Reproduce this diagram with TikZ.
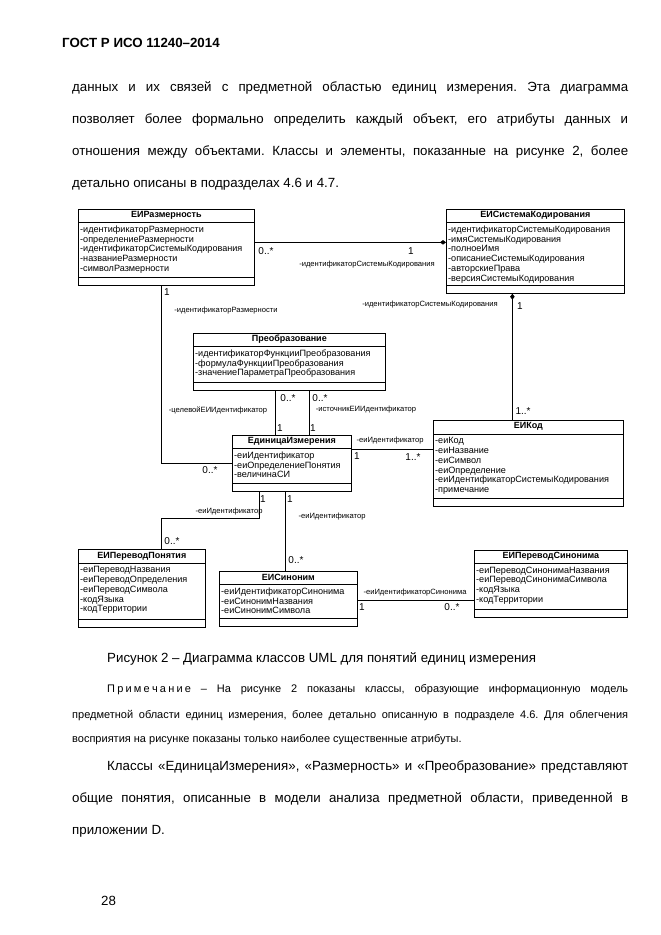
\documentclass[tikz,border=0pt]{standalone}
\usepackage{fontspec}
\setmainfont{Liberation Sans}
\usetikzlibrary{arrows.meta}
\frenchspacing

\tikzset{
  cls/.style={draw, line width=0.7pt, inner sep=0pt, anchor=north west},
  clsname/.style={font=\fontsize{9}{10}\selectfont\bfseries, inner sep=0pt},
  attrs/.style={font=\fontsize{9.1}{9.75}\selectfont, align=left, inner sep=0pt, anchor=north west},
  mult/.style={font=\fontsize{10}{11}\selectfont, inner sep=0pt},
  role/.style={font=\fontsize{7.6}{8}\selectfont, inner sep=0pt},
  link/.style={line width=0.7pt},
  agg/.style={link, -{Diamond[length=6pt, width=4.5pt]}},
  bodyline/.style={font=\fontsize{13.3}{16}\selectfont, inner sep=0pt, anchor=base west},
  noteline/.style={font=\fontsize{11}{13}\selectfont, inner sep=0pt, anchor=base west},
}

\begin{document}
\begin{tikzpicture}[x=1pt, y=-1pt]
\useasboundingbox (0,0) rectangle (661,935);

% page text above
\node[bodyline, font=\fontsize{13.3}{16}\selectfont\bfseries] (gost) at (62,47) {ГОСТ Р ИСО 11240–2014};
\node[bodyline] (p1) at (72,91) {\makebox[556pt][s]{данных и их связей с предметной областью единиц измерения. Эта диаграмма}};
\node[bodyline] (p2) at (72,123) {\makebox[556pt][s]{позволяет более формально определить каждый объект, его атрибуты данных и}};
\node[bodyline] (p3) at (72,155) {\makebox[556pt][s]{отношения между объектами. Классы и элементы, показанные на рисунке 2, более}};
\node[bodyline] (p4) at (72,187) {детально описаны в подразделах 4.6 и 4.7.};

% classes
\node[cls, minimum width=176pt, minimum height=76pt] (razm) at (78,209) {};
\node[clsname] (razm-n) at ([yshift=-6.5pt]razm.north) {ЕИРазмерность};
\draw[link] ([yshift=-13pt]razm.north west) -- ([yshift=-13pt]razm.north east);
\node[attrs] (razm-a) at ([shift={(2pt,-16.5pt)}]razm.north west) {-идентификаторРазмерности\\-определениеРазмерности\\-идентификаторСистемыКодирования\\-названиеРазмерности\\-символРазмерности};
\draw[link] ([yshift=8pt]razm.south west) -- ([yshift=8pt]razm.south east);

\node[cls, minimum width=178pt, minimum height=84pt] (sysk) at (446,209) {};
\node[clsname] (sysk-n) at ([yshift=-6.5pt]sysk.north) {ЕИСистемаКодирования};
\draw[link] ([yshift=-13pt]sysk.north west) -- ([yshift=-13pt]sysk.north east);
\node[attrs] (sysk-a) at ([shift={(2pt,-16.5pt)}]sysk.north west) {-идентификаторСистемыКодирования\\-имяСистемыКодирования\\-полноеИмя\\-описаниеСистемыКодирования\\-авторскиеПрава\\-версияСистемыКодирования};
\draw[link] ([yshift=8pt]sysk.south west) -- ([yshift=8pt]sysk.south east);

\node[cls, minimum width=192pt, minimum height=57pt] (preob) at (193,333) {};
\node[clsname] (preob-n) at ([yshift=-6.5pt]preob.north) {Преобразование};
\draw[link] ([yshift=-13pt]preob.north west) -- ([yshift=-13pt]preob.north east);
\node[attrs] (preob-a) at ([shift={(2pt,-16.5pt)}]preob.north west) {-идентификаторФункцииПреобразования\\-формулаФункцииПреобразования\\-значениеПараметраПреобразования};
\draw[link] ([yshift=8pt]preob.south west) -- ([yshift=8pt]preob.south east);

\node[cls, minimum width=119pt, minimum height=56pt] (edin) at (232,435) {};
\node[clsname] (edin-n) at ([yshift=-6.5pt]edin.north) {ЕдиницаИзмерения};
\draw[link] ([yshift=-13pt]edin.north west) -- ([yshift=-13pt]edin.north east);
\node[attrs] (edin-a) at ([shift={(2pt,-16.5pt)}]edin.north west) {-еиИдентификатор\\-еиОпределениеПонятия\\-величинаСИ};
\draw[link] ([yshift=8pt]edin.south west) -- ([yshift=8pt]edin.south east);

\node[cls, minimum width=190pt, minimum height=86pt] (kod) at (433,420) {};
\node[clsname] (kod-n) at ([yshift=-6.5pt]kod.north) {ЕИКод};
\draw[link] ([yshift=-14pt]kod.north west) -- ([yshift=-14pt]kod.north east);
\node[attrs] (kod-a) at ([shift={(2pt,-17.5pt)}]kod.north west) {-еиКод\\-еиНазвание\\-еиСимвол\\-еиОпределение\\-еиИдентификаторСистемыКодирования\\-примечание};
\draw[link] ([yshift=8pt]kod.south west) -- ([yshift=8pt]kod.south east);

\node[cls, minimum width=127pt, minimum height=78pt] (perevod) at (78,549) {};
\node[clsname] (perevod-n) at ([yshift=-7pt]perevod.north) {ЕИПереводПонятия};
\draw[link] ([yshift=-14pt]perevod.north west) -- ([yshift=-14pt]perevod.north east);
\node[attrs] (perevod-a) at ([shift={(2pt,-17.5pt)}]perevod.north west) {-еиПереводНазвания\\-еиПереводОпределения\\-еиПереводСимвола\\-кодЯзыка\\-кодТерритории};
\draw[link] ([yshift=8pt]perevod.south west) -- ([yshift=8pt]perevod.south east);

\node[cls, minimum width=138pt, minimum height=55pt] (sinonim) at (219,571) {};
\node[clsname] (sinonim-n) at ([yshift=-6.5pt]sinonim.north) {ЕИСиноним};
\draw[link] ([yshift=-13pt]sinonim.north west) -- ([yshift=-13pt]sinonim.north east);
\node[attrs] (sinonim-a) at ([shift={(2pt,-16.5pt)}]sinonim.north west) {-еиИдентификаторСинонима\\-еиСинонимНазвания\\-еиСинонимСимвола};
\draw[link] ([yshift=8pt]sinonim.south west) -- ([yshift=8pt]sinonim.south east);

\node[cls, minimum width=153pt, minimum height=67pt] (perevsin) at (474,550) {};
\node[clsname] (perevsin-n) at ([yshift=-6.5pt]perevsin.north) {ЕИПереводСинонима};
\draw[link] ([yshift=-13pt]perevsin.north west) -- ([yshift=-13pt]perevsin.north east);
\node[attrs] (perevsin-a) at ([shift={(2pt,-16.5pt)}]perevsin.north west) {-еиПереводСинонимаНазвания\\-еиПереводСинонимаСимвола\\-кодЯзыка\\-кодТерритории};
\draw[link] ([yshift=8pt]perevsin.south west) -- ([yshift=8pt]perevsin.south east);

% associations
\draw[agg] ([yshift=5pt]razm.east) -- ([yshift=5pt]razm.east -| sysk.west);
\node[mult] (m1) at (266,251) {0..*};
\node[mult] (m2) at (411,251) {1};
\node[role] (r1) at (367,265) {-идентификаторСистемыКодирования};

\draw[agg] ([xshift=-23pt]sysk.south |- kod.north) -- ([xshift=-23pt]sysk.south);
\node[role] (r2) at (430,305) {-идентификаторСистемыКодирования};
\node[mult] (m3) at (520,306) {1};
\node[mult] (m4) at (523,411) {1..*};

\draw[link] ([xshift=-5pt]razm.south) |- (edin.west);
\node[mult] (m5) at (167,292) {1};
\node[role] (r3) at (226,311) {-идентификаторРазмерности};
\node[mult] (m6) at (210,470) {0..*};

\draw[link] ([xshift=-14pt]preob.south) -- ([xshift=-14pt]preob.south |- edin.north);
\draw[link] ([xshift=20pt]preob.south) -- ([xshift=20pt]preob.south |- edin.north);
\node[mult] (m7) at (288,398) {0..*};
\node[mult] (m8) at (320,398) {0..*};
\node[mult] (m9) at (280,428) {1};
\node[mult] (m10) at (313,428) {1};
\node[role] (r4) at (218,410) {-целевойЕИИдентификатор};
\node[role] (r5) at (366,410) {-источникЕИИдентификатор};

\draw[link] ([yshift=14pt]edin.east) -- ([yshift=14pt]edin.east -| kod.west);
\node[role] (r6) at (390,441) {-еиИдентификатор};
\node[mult] (m11) at (357,456) {1};
\node[mult] (m12) at (413,457) {1..*};

\draw[link] ([xshift=-32.5pt]edin.south) -- ++(0,27) -| ([xshift=19.5pt]perevod.north);
\node[mult] (m13) at (263,499) {1};
\node[role] (r7) at (229,512) {-еиИдентификатор};
\node[mult] (m14) at (172,541) {0..*};

\draw[link] ([xshift=-6.5pt]edin.south) -- ([xshift=-6.5pt]edin.south |- sinonim.north);
\node[mult] (m15) at (290,499) {1};
\node[role] (r8) at (332,517) {-еиИдентификатор};
\node[mult] (m16) at (296,560) {0..*};

\draw[link] ([yshift=-1.5pt]sinonim.east) -- ([yshift=-1.5pt]sinonim.east -| perevsin.west);
\node[role] (r9) at (415,593) {-еиИдентификаторСинонима};
\node[mult] (m17) at (362,607) {1};
\node[mult] (m18) at (452,607) {0..*};

% caption and text below
\node[bodyline] (cap) at (107,662) {Рисунок 2 – Диаграмма классов UML для понятий единиц измерения};
\node[noteline] (n1) at (107,692) {\makebox[521pt][s]{П\kern2.2pt р\kern2.2pt и\kern2.2pt м\kern2.2pt е\kern2.2pt ч\kern2.2pt а\kern2.2pt н\kern2.2pt и\kern2.2pt е – На рисунке 2 показаны классы, образующие информационную модель}};
\node[noteline] (n2) at (72,718) {\makebox[556pt][s]{предметной области единиц измерения, более детально описанную в подразделе 4.6. Для облегчения}};
\node[noteline] (n3) at (72,742) {восприятия на рисунке показаны только наиболее существенные атрибуты.};
\node[bodyline] (q1) at (107,770) {\makebox[521pt][s]{Классы «ЕдиницаИзмерения», «Размерность» и «Преобразование» представляют}};
\node[bodyline] (q2) at (72,802) {\makebox[556pt][s]{общие понятия, описанные в модели анализа предметной области, приведенной в}};
\node[bodyline] (q3) at (72,834) {приложении D.};
\node[bodyline] (page) at (101,905) {28};
\end{tikzpicture}
\end{document}
